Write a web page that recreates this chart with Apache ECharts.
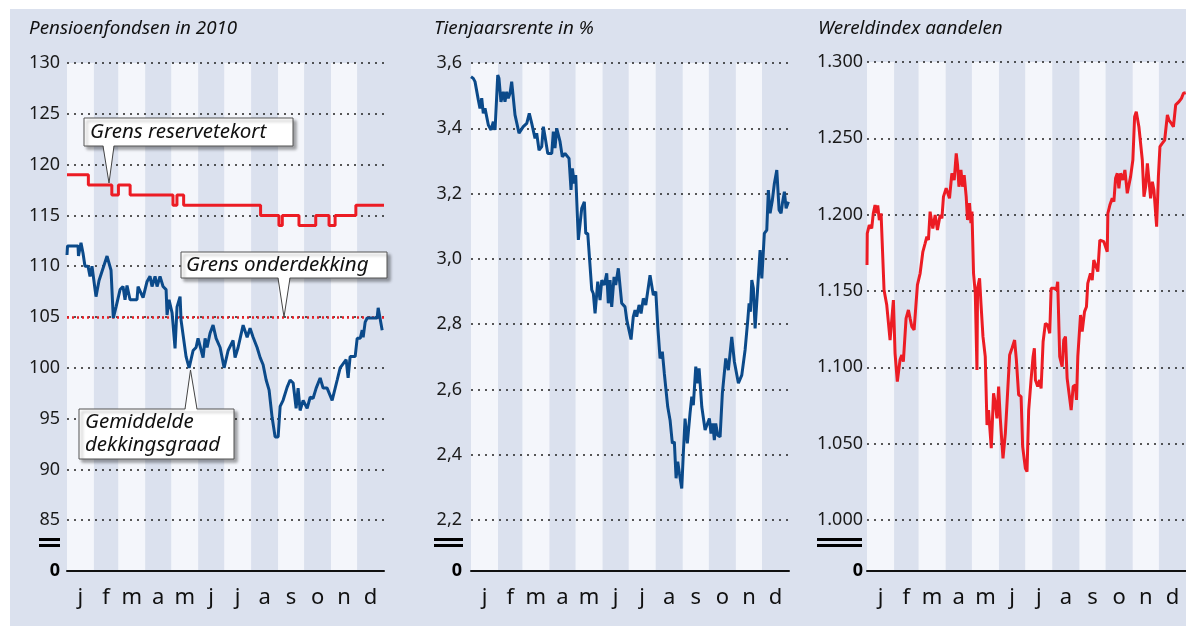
<!DOCTYPE html>
<html>
<head>
<meta charset="utf-8">
<script src="https://cdn.jsdelivr.net/npm/echarts@6/dist/echarts.min.js"></script>
<style>
html,body{margin:0;padding:0;background:#fff}
#c{width:1186px;height:626px}
</style>
</head>
<body>
<div id="c"></div>
<script>
// maanden (dag van het jaar)
var maanden = ['j','f','m','a','m','j','j','a','s','o','n','d'];
var maandStart = [0,31,59,90,120,151,181,212,243,273,304,334,365];

// Pensioenfondsen: gemiddelde dekkingsgraad
var dekDagen = [0,0.6,12.7,13.2,16.1,18.4,20.7,24.2,26.5,28.8,33.4,36.9,39.2,46.1,50.7,53.3,56.5,61.1,64.5,66.8,69.1,72.6,80.6,81.8,87.6,92.2,95.6,97.9,101.4,103.7,107.1,110.6,114.1,115.2,117.5,121,124.4,126.7,130.2,131.3,137.1,140.6,145.2,148.6,150.9,156.7,159,161.3,164.7,168.2,171.7,176.3,180.9,185.5,191.2,193.5,197,202.8,207.4,210.8,214.3,218.9,222.4,225.8,229.3,232.7,236.2,239.6,243.1,245.4,248.8,253.5,256.9,260.4,263.8,266.1,268.4,271.9,276.5,280,283.4,286.9,291.5,294.9,299.5,305.3,311.1,314.5,321.4,323.7,326,331.8,334.1,337.6,339.9,341,343.3,345.6,357.1,358.3,360.6,362.9];
var dekWaarden = [111.1,112,112,111,112.3,111.3,110,110,109,110,107,108.6,108.6,111,109.6,104.9,106,107.7,108,106.7,108.1,106.7,106.7,108,106.9,108.5,109,108,109,108,109,108,107.7,105.2,106.7,105.4,101.9,106,107,104.7,101.1,100,101.7,102,102.9,101,102.9,102,103.4,104.2,102.9,102,100,101.7,102.7,101,102,104.2,103,103.9,103,102,101,100.3,98.8,97.8,95.1,93.2,93.2,96.2,96.8,98.1,98.8,98.5,96,98,95.8,96.8,96,97.1,97,98,99,98,98,96.8,98.8,100,100.8,99,101.1,101.1,102.9,102.9,103.7,103,104.5,104.9,104.9,105.9,105.9,103.7];

// grens reservetekort (trap)
var reserveDagen = [0,24.6,51.6,59.2,72.7,122,126.6,134.3,222.9,244,247.9,267.1,286.4,301.7,308.7,332.6,365];
var reserveWaarden = [119,118,117,118,117,116,117,116,115,114,115,114,115,114,115,116,116];
var grensOnderdekking = 105;

// Tienjaarsrente in %
var renteDagen = [0,2.6,4.6,8.4,10.3,12.3,14.1,16.1,19.9,23,25.6,27.6,30.7,32.1,34.4,37.1,39,41,42.8,44.8,46.7,48.6,50.5,55.1,60,64,66.9,69.7,73.5,75.4,78.1,81.2,83,85,88.1,92.7,94.5,96.4,98.4,102.2,104.8,107.9,112.5,114.8,116.3,118.6,120.2,123.2,125.1,127.1,130.1,131.7,134,138.6,140.4,142.4,145.5,148.1,150.1,153,155.8,157.6,159.6,161.5,164.2,166.1,169.1,173,176.8,178.8,183.7,186.3,188.3,190.2,192.9,195.2,197.8,200.6,205.5,209.3,212.1,214.4,217,219.6,221.9,225.8,228.5,231.1,233.4,235.4,237.3,239.2,241.9,243.7,245.7,248.3,251.4,253.4,255.2,258,260.3,261.8,264.9,266.7,268.7,270.6,273.6,275.5,277.5,279.3,280.9,283.2,285.9,288.5,292.4,295.4,299.3,302.3,306.9,310.8,314.6,317.7,319.2,320.7,322.3,324.1,326.1,331.8,333.8,336.7,339.5,341.3,343.3,345.9,348.2,351,353.6,355.9,357.4,359.7,361.7,364.3];
var renteWaarden = [3.558,3.553,3.543,3.487,3.461,3.492,3.446,3.461,3.41,3.395,3.42,3.395,3.563,3.553,3.481,3.512,3.481,3.512,3.492,3.507,3.543,3.543,3.441,3.385,3.405,3.415,3.446,3.415,3.369,3.385,3.333,3.344,3.405,3.374,3.323,3.323,3.39,3.339,3.4,3.359,3.313,3.323,3.308,3.211,3.277,3.231,3.257,3.058,3.053,3.155,3.175,3.078,3.078,2.905,2.894,2.833,2.93,2.874,2.935,2.92,2.956,2.864,2.935,2.853,2.945,2.92,2.971,2.864,2.853,2.813,2.753,2.823,2.843,2.823,2.859,2.833,2.879,2.859,2.95,2.889,2.9,2.792,2.695,2.716,2.649,2.547,2.506,2.435,2.44,2.328,2.379,2.343,2.297,2.404,2.511,2.435,2.527,2.578,2.552,2.67,2.619,2.665,2.547,2.542,2.476,2.47,2.511,2.465,2.496,2.445,2.496,2.46,2.455,2.588,2.695,2.659,2.761,2.685,2.619,2.644,2.721,2.813,2.864,2.838,2.935,2.91,2.787,3.027,2.94,3.078,3.088,3.211,3.14,3.18,3.231,3.272,3.15,3.14,3.17,3.206,3.155,3.175];

// Wereldindex aandelen
var indexDagen = [0,0.3,2.6,5.4,7.2,9.2,11.1,12.3,14.1,16.1,19.5,22.6,26.4,30.2,32.1,34.7,37.8,39.8,41.6,44.7,47.4,49.3,51.3,53.9,57.7,60.8,63.9,66.5,68.5,70.3,72.2,75.3,78,80.6,83.7,85.7,87.5,90.6,94.4,97.1,99.8,102.1,103.6,105.2,107.5,109.3,111.2,113.5,115,117.3,118.9,120.1,121.9,123.9,125.8,126.5,128.8,130.4,132.7,135.3,137.3,139.1,140.3,142.2,144.8,146.8,148.7,150.6,152.5,155.6,158.3,160.2,163.2,165.9,168.9,170.9,173.5,176.3,178.1,181.2,183.1,185,187.7,190,191.5,192.7,195.3,197.6,199.2,201.5,204.1,206.8,209.1,210.7,214.4,216.7,218.2,220.5,223.3,225.1,227.1,229,230.8,233.6,235.9,238.5,239.7,241.2,244.3,246.2,248.9,251.1,252.6,255.7,257.7,259.5,264.1,266.4,271,272.9,274.9,275.6,277.9,280.6,282.5,284.4,286.4,288.2,290.1,292.8,295.1,297.8,301.6,304.2,306.2,308.1,311.1,315,316.9,318.8,320.8,322.6,324.5,326.5,328.3,331.4,333.4,335.2,338,340.6,343.7,345.5,348.3,350.6,353.2,357,359.8,362.1,364.7];
var indexWaarden = [1167,1187.8,1193.2,1191,1200.9,1206.3,1200.9,1206,1196.5,1200.9,1150.7,1140.8,1117.9,1144.1,1109.2,1090.6,1104.9,1108.1,1103.7,1132.1,1137.6,1132.1,1126.7,1124.5,1154,1161.6,1175.7,1181.2,1185.6,1183.4,1202,1191,1199.8,1190,1199.8,1197.6,1211.8,1217.3,1210.7,1227.1,1222.7,1240.2,1232.6,1218.3,1229.3,1218.3,1225.9,1211.8,1196.5,1207.5,1194.4,1202,1161.6,1148.5,1098.3,1151.8,1158.3,1142,1120.1,1107,1062.2,1072,1062.2,1047,1083,1076.4,1066.6,1087.4,1066.6,1040.4,1056.8,1076.4,1108.1,1112.5,1117.9,1104.9,1082,1080.8,1048.1,1033.9,1031.7,1072,1091.7,1107,1112.5,1091.7,1087.4,1091.7,1086.2,1116.8,1128.8,1127.7,1122.3,1151.8,1151.8,1150.7,1156.1,1107,1100.4,1117.9,1120.1,1092.8,1091.7,1072,1087.4,1088.5,1078.6,1107,1134.3,1123.4,1136.5,1139.7,1155,1161.6,1157.2,1170.3,1162.7,1183.4,1182.3,1183.4,1175.7,1200.9,1206.3,1210.7,1208.5,1223.8,1227.1,1217.3,1227.1,1222.7,1229.3,1214,1224.9,1235.8,1264.2,1267.4,1257.6,1235.8,1211.8,1218.3,1233.6,1233.6,1210.7,1221.6,1216.2,1192.1,1224.9,1244.6,1246.8,1248.9,1265.3,1262,1259.8,1257.6,1271.9,1274,1276.2,1279.5,1279.9];

// y-as ticks (laagste waarde = afgebroken as, label "0")
var yTicks1 = [80,85,90,95,100,105,110,115,120,125,130];
var yTicks2 = [2.044,2.2,2.4,2.6,2.8,3.0,3.2,3.4,3.6];
var yTicks3 = [966.6,1000,1050,1100,1150,1200,1250,1300];

var titels = ['Pensioenfondsen in 2010','Tienjaarsrente in %','Wereldindex aandelen'];

var FONT = '"Noto Sans", "Open Sans", sans-serif';
var BLAUW = '#0b4a8a';
var ROOD = '#ec1c24';

function zip(a, b) {
    return a.map(function (d, i) { return [d, b[i]]; });
}

var maandMidden = maanden.map(function (m, i) {
    return (maandStart[i] + maandStart[i + 1]) / 2;
});

// lichte maandbanden: j, m, m, j, s, n
var banden = [];
for (var i = 0; i < 12; i += 2) {
    banden.push([{ xAxis: maandStart[i] }, { xAxis: maandStart[i + 1] }]);
}

var grids = [
    { left: 67, top: 63, width: 317, height: 508 },
    { left: 471, top: 63, width: 318, height: 508 },
    { left: 867, top: 62, width: 319, height: 509 }
];
var yTicks = [yTicks1, yTicks2, yTicks3];
var labelMarge = [7, 9, 4];

function yLabel(i) {
    return function (v) {
        if (Math.abs(v - yTicks[i][0]) < 1e-6) return '{b|0}';
        if (i === 1) return v.toFixed(1).replace('.', ',');
        if (i === 2) return '1.' + String(Math.round(v - 1000)).padStart(3, '0');
        return String(v);
    };
}

var xAxes = [], yAxes = [], series = [];
for (var g = 0; g < 3; g++) {
    xAxes.push({
        gridIndex: g, type: 'value', min: 0, max: 365, z: 6,
        splitLine: { show: false },
        axisTick: { show: false },
        axisLine: { show: true, onZero: false, lineStyle: { color: '#111', width: 2 } },
        axisLabel: {
            customValues: maandMidden,
            formatter: function (v) { return maanden[maandMidden.indexOf(v)]; },
            fontSize: 22, fontFamily: FONT, color: '#111', margin: 16
        }
    });
    yAxes.push({
        gridIndex: g, type: 'value', min: yTicks[g][0], max: yTicks[g][yTicks[g].length - 1], z: 4,
        axisLine: { show: false },
        axisTick: { show: false, customValues: yTicks[g] },
        splitLine: { show: true, lineStyle: { color: '#222', type: [2, 5], width: 1.6 } },
        axisLabel: {
            customValues: yTicks[g],
            formatter: yLabel(g),
            margin: labelMarge[g], fontSize: 18, fontFamily: FONT, color: '#1a1a1a',
            rich: { b: { fontSize: 18, fontWeight: 'bold', fontFamily: FONT, color: '#000' } }
        }
    });
    // achtergrondbanden
    series.push({
        type: 'line', xAxisIndex: g, yAxisIndex: g, data: [], z: 0, silent: true,
        markArea: { silent: true, itemStyle: { color: '#f4f6fb' }, data: banden }
    });
}

series.push({
    type: 'line', xAxisIndex: 0, yAxisIndex: 0, z: 5, showSymbol: false, step: 'end',
    data: zip(reserveDagen, reserveWaarden),
    lineStyle: { color: ROOD, width: 3 }
});
series.push({
    type: 'line', xAxisIndex: 0, yAxisIndex: 0, z: 5, showSymbol: false,
    data: zip(dekDagen, dekWaarden),
    lineStyle: { color: BLAUW, width: 3 },
    markLine: {
        silent: true, symbol: 'none', label: { show: false },
        lineStyle: { color: ROOD, type: [2, 3], width: 2.5 },
        data: [{ yAxis: grensOnderdekking }]
    }
});
series.push({
    type: 'line', xAxisIndex: 1, yAxisIndex: 1, z: 5, showSymbol: false,
    data: zip(renteDagen, renteWaarden),
    lineStyle: { color: BLAUW, width: 3 }
});
series.push({
    type: 'line', xAxisIndex: 2, yAxisIndex: 2, z: 5, showSymbol: false,
    data: zip(indexDagen, indexWaarden),
    lineStyle: { color: ROOD, width: 3 }
});

// callouts
var boxStyle = {
    fill: '#fff', stroke: '#555', lineWidth: 1,
    shadowBlur: 3, shadowOffsetX: 3, shadowOffsetY: 3, shadowColor: 'rgba(0,0,0,0.35)'
};
function tekst(x, y, t, font) {
    return {
        type: 'text', z: 11,
        style: { x: x, y: y, text: t, font: font, fill: '#111',
                 align: 'left', verticalAlign: 'middle', textAlign: 'left', textVerticalAlign: 'middle' }
    };
}
function callout(box, tail, regels) {
    var els = [];
    els.push({ type: 'rect', z: 10, shape: box, style: boxStyle });
    els.push({ type: 'polygon', z: 11, shape: { points: tail.fill }, style: { fill: '#fff' } });
    els.push({ type: 'polyline', z: 11, shape: { points: tail.lijn }, style: { stroke: '#444', lineWidth: 1, fill: null } });
    regels.forEach(function (r) {
        els.push(tekst(r[0], r[1], r[2], 'italic 20.5px ' + FONT));
    });
    return els;
}

var graphics = [
    { type: 'rect', z: 0, shape: { x: 0, y: 0, width: 1186, height: 9 }, style: { fill: '#fff' } },
    { type: 'rect', z: 0, shape: { x: 0, y: 0, width: 10, height: 626 }, style: { fill: '#fff' } }
];
var titelX = [29, 434, 818];
titels.forEach(function (t, i) {
    graphics.push(tekst(titelX[i], 28.5, t, 'italic 18.8px ' + FONT));
});
// asbreuk-tekens
var breuk = [[39, 21], [434, 29], [817, 45]];
breuk.forEach(function (b) {
    graphics.push({ type: 'rect', z: 5, shape: { x: b[0], y: 538, width: b[1], height: 3 }, style: { fill: '#000' } });
    graphics.push({ type: 'rect', z: 5, shape: { x: b[0], y: 544, width: b[1], height: 3 }, style: { fill: '#000' } });
});

graphics = graphics.concat(
    callout({ x: 84, y: 118, width: 209, height: 28 },
        { fill: [[103, 144], [114, 144], [109, 183]], lijn: [[103, 146], [109, 183], [114, 146]] },
        [[90, 132, 'Grens reservetekort']]),
    callout({ x: 181, y: 252, width: 206, height: 26 },
        { fill: [[278, 276], [290, 276], [284, 317]], lijn: [[278, 278], [284, 317], [290, 278]] },
        [[186, 265, 'Grens onderdekking']]),
    callout({ x: 79, y: 409, width: 155, height: 50 },
        { fill: [[185, 411], [197, 411], [190.5, 370]], lijn: [[185, 409], [190.5, 370], [197, 409]] },
        [[85, 422, 'Gemiddelde'], [85, 445, 'dekkingsgraad']])
);

var chart = echarts.init(document.getElementById('c'));
chart.setOption({
    backgroundColor: '#dbe1ee',
    animation: false,
    grid: grids,
    xAxis: xAxes,
    yAxis: yAxes,
    series: series,
    graphic: graphics
});
</script>
</body>
</html>
